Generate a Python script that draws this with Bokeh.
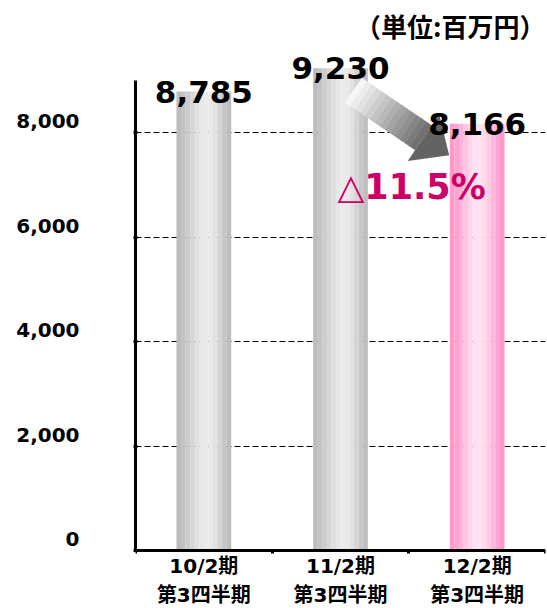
from bokeh.plotting import figure
from bokeh.models import Range1d, FixedTicker
from bokeh.core.properties import value
from bokeh.embed import file_html
from bokeh.resources import INLINE
import math

# ---- data ----
periods = ["10/2期", "11/2期", "12/2期"]
quarter = ["第3四半期", "第3四半期", "第3四半期"]
sales = [8785, 9230, 8166]          # 百万円
y_ticks = [0, 2000, 4000, 6000, 8000]
unit_label = "（単位:百万円）"

# ---- styling ----
NUM_FONT = "DejaVu Sans"
JP_FONT = "DejaVu Sans, Noto Sans CJK JP"
gray_profile = ["#bcbcbc", "#c3c3c3", "#cccccc", "#d6d6d6", "#e0e0e0", "#e7e7e7",
                "#ebebeb", "#e9e9e9", "#e1e1e1", "#d4d4d4", "#c7c7c7", "#bebebe"]
pink_profile = ["#ff99cc", "#ffa3d1", "#ffb3d9", "#ffc5e2", "#ffd5ea", "#ffdfef",
                "#ffe3f1", "#ffdcec", "#ffcbe3", "#ffb7d9", "#ffa5d1", "#ff9acc"]

W, H = 547, 608
BL, BR = 135, 2
YMAX = 10527
YMIN = -1110

p = figure(width=W, height=H, x_range=Range1d(0, 3), y_range=Range1d(YMIN, YMAX),
           output_backend="svg", toolbar_location=None,
           min_border_left=BL, min_border_right=BR, min_border_top=0,
           min_border_bottom=0)
p.outline_line_color = None
p.background_fill_color = "white"
p.xgrid.visible = False
p.ygrid.ticker = FixedTicker(ticks=[t for t in y_ticks if t > 0])
p.ygrid.grid_line_color = "black"
p.ygrid.grid_line_dash = "6 3"
p.ygrid.grid_line_width = 1

# ---- y axis ----
ya = p.yaxis[0]
ya.ticker = FixedTicker(ticks=y_ticks)
ya.major_label_overrides = {t: f"{t:,}\n" for t in y_ticks}
ya.bounds = (0, 9000)
ya.axis_line_width = 3
ya.axis_line_color = "black"
ya.major_tick_in = 2
ya.major_tick_out = 2
ya.major_tick_line_width = 3
ya.minor_tick_line_color = None
ya.major_label_standoff = 54
ya.major_label_text_font = NUM_FONT
ya.major_label_text_font_style = "bold"
ya.major_label_text_font_size = "20px"
ya.major_label_text_color = "black"
ya.major_label_text_line_height = 0.95

# ---- x axis (fixed at y=0, two-line category labels) ----
centers = [i + 0.5 for i in range(len(periods))]
xa = p.xaxis[0]
xa.fixed_location = 0
xa.ticker = FixedTicker(ticks=centers, minor_ticks=list(range(len(periods) + 1)))
xa.major_label_overrides = {c: f"{a}\n{b}" for c, a, b in zip(centers, periods, quarter)}
xa.axis_line_width = 3
xa.axis_line_color = "black"
xa.major_tick_line_color = None
xa.major_tick_in = 0
xa.major_tick_out = 0
xa.minor_tick_in = 0
xa.minor_tick_out = 3
xa.minor_tick_line_width = 3
xa.minor_tick_line_color = "black"
xa.major_label_standoff = 0
xa.major_label_text_font = JP_FONT
xa.major_label_text_font_style = "bold"
xa.major_label_text_font_size = "20px"
xa.major_label_text_color = "black"
xa.major_label_text_line_height = 1.22

# ---- bars (stripe gradient) ----
BW = 0.4
for i, v in enumerate(sales):
    prof = pink_profile if i == len(sales) - 1 else gray_profile
    n = len(prof)
    sw = BW / n
    xs = [centers[i] - BW / 2 + sw * (k + 0.5) for k in range(n)]
    p.vbar(x=xs, top=[v] * n, bottom=0, width=sw * 1.02,
           fill_color=prof, line_color=None)

# ---- arrow (gradient) from bar 2 to bar 3 ----
XPX = (W - BL - BR) / 3.0
YPX = H / (YMAX - YMIN)


def to_px(x, y):
    return x * XPX, -y * YPX


def to_data(px, py):
    return px / XPX, -py / YPX


arrow_start = (centers[1] + 0.095, sales[1] - 420)
arrow_end = (centers[2] - 0.205, sales[2] - 600)
tx, ty = to_px(*arrow_start)
ex, ey = to_px(*arrow_end)
L = math.hypot(ex - tx, ey - ty)
dx, dy = (ex - tx) / L, (ey - ty) / L
nx, ny = -dy, dx
head_len, head_hw, shaft_hw = 31, 28, 15
bx, by = ex - head_len * dx, ey - head_len * dy
K = 14
qx, qy, qc = [], [], []
c0, c1 = (252, 252, 252), (108, 108, 108)
for k in range(K):
    a = k / K
    b = min(1.0, (k + 1) / K + 0.01)
    ax_, ay_ = tx + (bx - tx) * a, ty + (by - ty) * a
    bx_, by_ = tx + (bx - tx) * b, ty + (by - ty) * b
    pts = [(ax_ + shaft_hw * nx, ay_ + shaft_hw * ny),
           (bx_ + shaft_hw * nx, by_ + shaft_hw * ny),
           (bx_ - shaft_hw * nx, by_ - shaft_hw * ny),
           (ax_ - shaft_hw * nx, ay_ - shaft_hw * ny)]
    d = [to_data(*pt) for pt in pts]
    qx.append([q[0] for q in d])
    qy.append([q[1] for q in d])
    t = (k + 0.5) / K
    col = tuple(int(c0[j] + (c1[j] - c0[j]) * t) for j in range(3))
    qc.append("#%02x%02x%02x" % col)
p.patches(xs=qx, ys=qy, fill_color=qc, line_color=None)
head = [(bx + head_hw * nx, by + head_hw * ny), (ex, ey), (bx - head_hw * nx, by - head_hw * ny)]
hd = [to_data(*pt) for pt in head]
p.patch(x=[q[0] for q in hd], y=[q[1] for q in hd], fill_color="#636363", line_color=None)

# ---- value labels (drawn over the arrow) ----
p.text(x=centers, y=sales, text=[f"{v:,}" for v in sales],
       text_font=value(NUM_FONT), text_font_style="bold", text_font_size="31px",
       text_align="center", text_baseline="alphabetic", y_offset=0,
       text_color="black")

# ---- change label ----
chg = (sales[2] - sales[1]) / sales[1] * 100
chg_text = ("△" if chg < 0 else "") + f"{abs(chg):.1f}%"
p.text(x=[2.02], y=[sales[2] - 1200], text=[chg_text],
       text_font=value(NUM_FONT), text_font_style="bold", text_font_size="35px",
       text_align="center", text_baseline="middle", text_color="#cc0066")

# ---- unit label ----
p.text(x=[3.0], y=[YMAX - 25 / YPX], text=[unit_label],
       text_font=value("Noto Sans CJK JP"), text_font_style="bold", text_font_size="26px",
       text_align="right", text_baseline="middle", text_color="black")

open("out.html", "w").write(file_html(p, INLINE))
